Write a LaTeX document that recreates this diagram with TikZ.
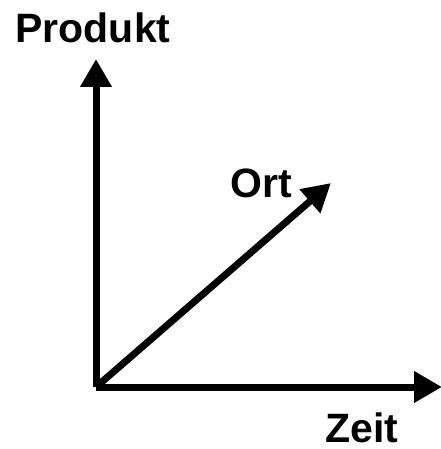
\documentclass[tikz,border=0pt]{standalone}
\usepackage{fontspec}
\setmainfont{Liberation Sans}
\usetikzlibrary{arrows.meta}
\tikzset{
  axisarrow/.style={line width=7pt, -{Triangle[width=30pt,length=28pt]}},
  axislabel/.style={font=\fontsize{41}{41}\selectfont\bfseries, inner sep=0pt, text depth=0pt, anchor=base}
}
\begin{document}
\begin{tikzpicture}[x=1pt,y=-1pt]
\useasboundingbox (0,0) rectangle (440,449);
% Origin and arrow ends
\coordinate (origin) at (96,387);
\coordinate (prodend) at (96,59);
\coordinate (zeitend) at (442,387);
\coordinate (ortend) at (331,183);
% Three axes
\draw[axisarrow] (origin) -- (prodend);
\draw[axisarrow] (origin) -- (zeitend);
\draw[axisarrow] (origin) -- (ortend);
% Labels
\node[axislabel] (produkt) at (93,43) {Produkt};
\node[axislabel] (ort) at (261,197) {Ort};
\node[axislabel] (zeit) at (362,442) {Zeit};
\end{tikzpicture}
\end{document}
